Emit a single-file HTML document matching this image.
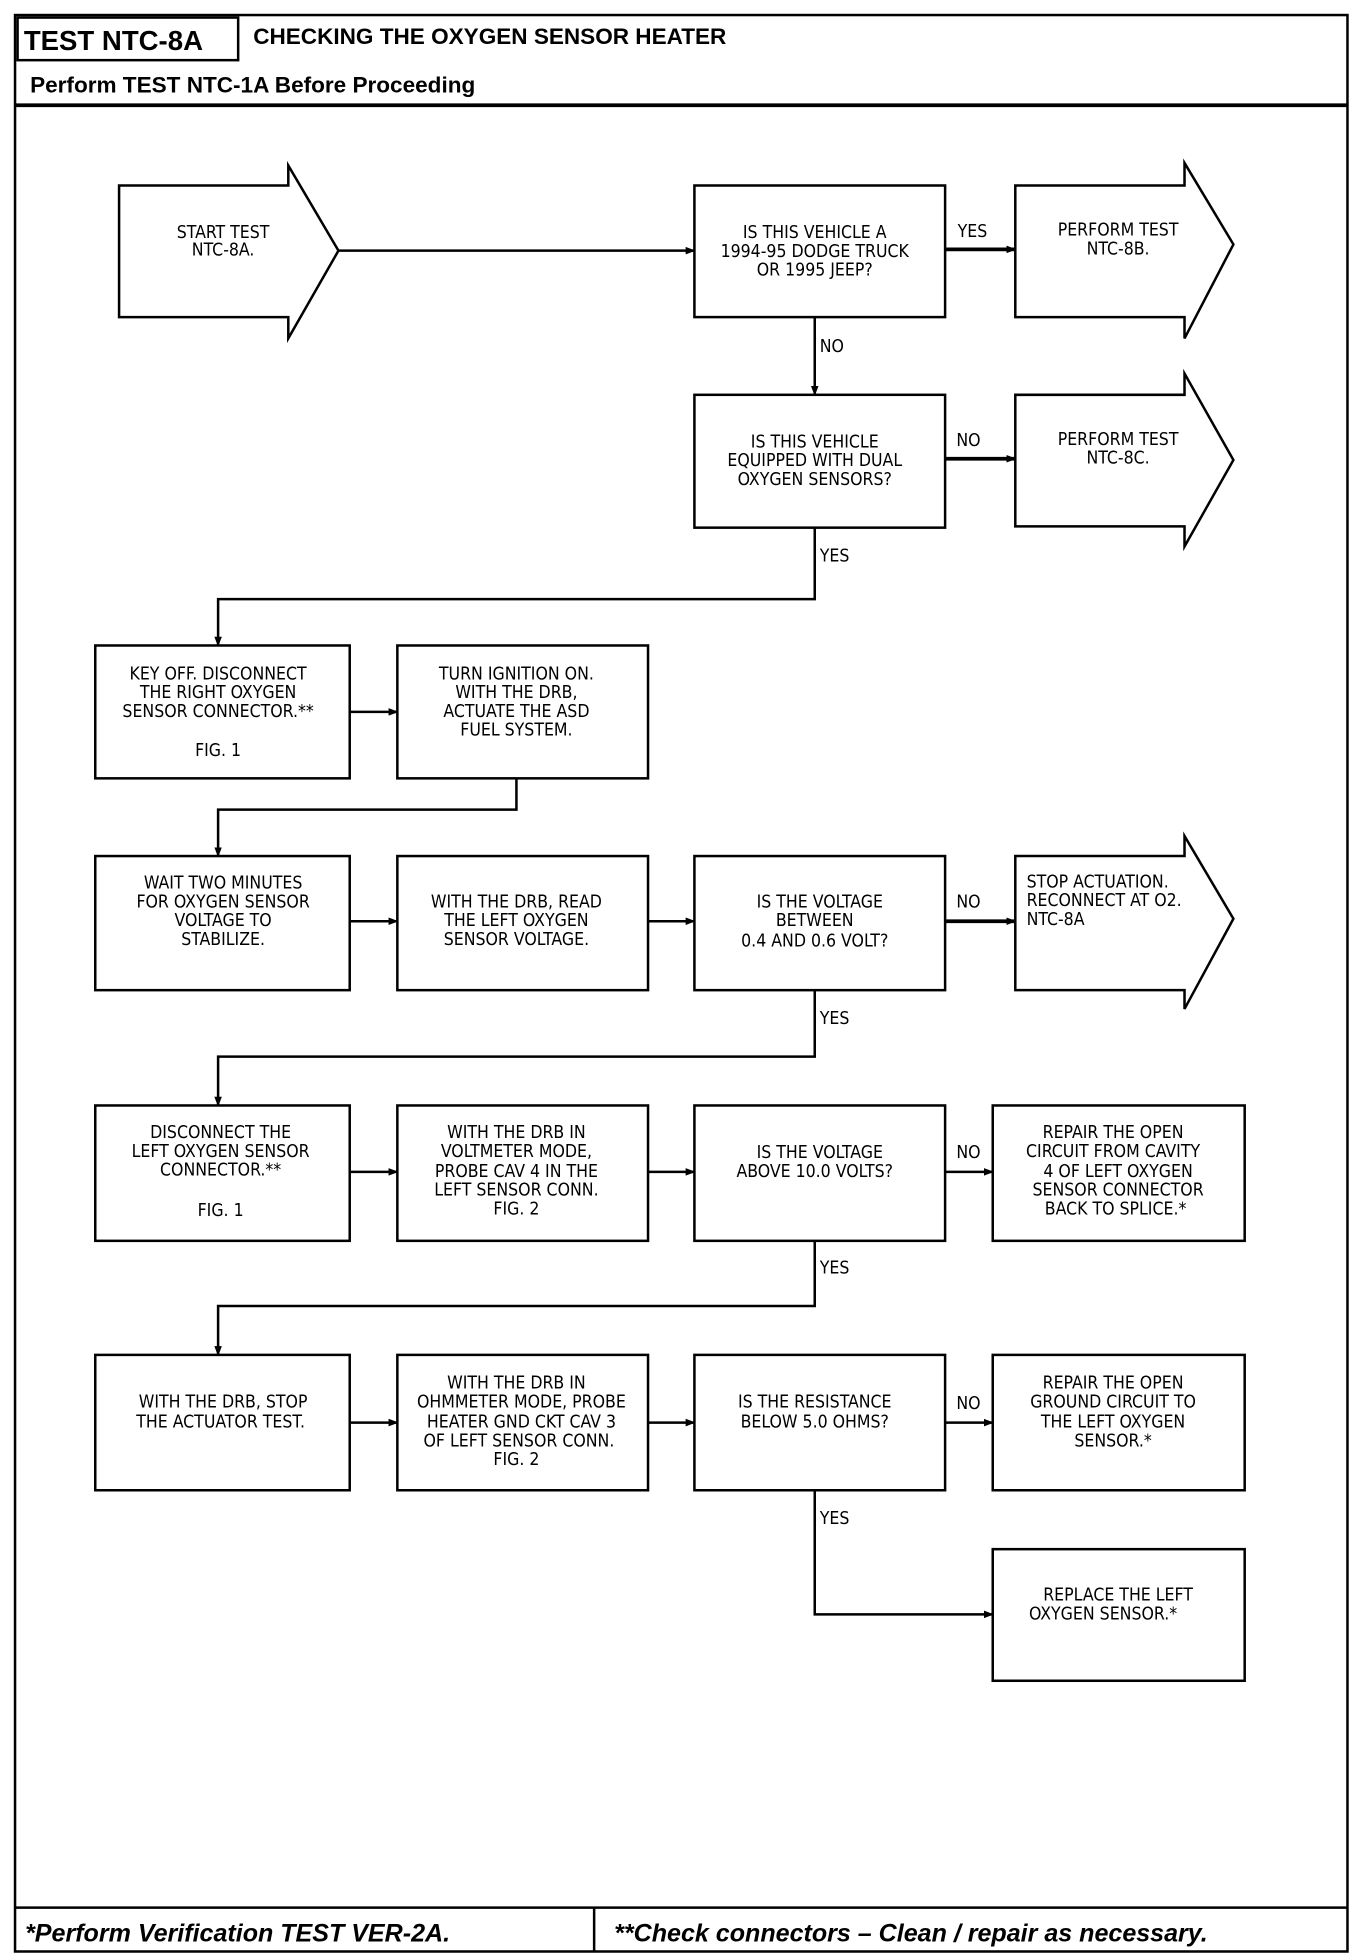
<!DOCTYPE html>
<html><head><meta charset="utf-8"><style>
html,body{margin:0;padding:0;background:#fff;}
svg{display:block;}
.t{font-family:"DejaVu Sans Condensed","Liberation Sans Narrow","Liberation Sans",sans-serif;font-size:14px;fill:#000;}
.h{font-family:"Liberation Sans",sans-serif;font-weight:bold;fill:#000;}
</style></head><body>
<svg width="1360" height="1954" viewBox="0 0 1085 1559" preserveAspectRatio="none" xmlns="http://www.w3.org/2000/svg">
<defs><marker id="a" markerWidth="8" markerHeight="8" refX="7" refY="4" orient="auto" markerUnits="userSpaceOnUse"><path d="M0,1 L8,4 L0,7 Z" fill="#000"/></marker></defs>
<g fill="none" stroke="#000" stroke-width="2">
<rect x="12" y="12" width="1063" height="1545"/>
<rect x="14" y="14" width="176" height="34"/>
<line x1="12" y1="84" x2="1075" y2="84" stroke-width="3"/>
<line x1="12" y1="1522" x2="1075" y2="1522"/>
<line x1="474" y1="1522" x2="474" y2="1557"/>
<!-- arrow shapes -->
<path d="M95,148 H230 V132 L270,200 L230,270 V253 H95 Z"/>
<path d="M810,148 H945 V130 L984,195 L945,270 V253 H810 Z"/>
<path d="M810,315 H945 V298 L984,367 L945,436 V420 H810 Z"/>
<path d="M810,683 H945 V667 L984,733 L945,805 V790 H810 Z"/>
<!-- boxes -->
<rect x="554" y="148" width="200" height="105"/>
<rect x="554" y="315" width="200" height="106"/>
<rect x="76" y="515" width="203" height="106"/>
<rect x="317" y="515" width="200" height="106"/>
<rect x="76" y="683" width="203" height="107"/>
<rect x="317" y="683" width="200" height="107"/>
<rect x="554" y="683" width="200" height="107"/>
<rect x="76" y="882" width="203" height="108"/>
<rect x="317" y="882" width="200" height="108"/>
<rect x="554" y="882" width="200" height="108"/>
<rect x="792" y="882" width="201" height="108"/>
<rect x="76" y="1081" width="203" height="108"/>
<rect x="317" y="1081" width="200" height="108"/>
<rect x="554" y="1081" width="200" height="108"/>
<rect x="792" y="1081" width="201" height="108"/>
<rect x="792" y="1236" width="201" height="105"/>
</g>
<g fill="none" stroke="#000" stroke-width="2" marker-end="url(#a)">
<line x1="270" y1="200" x2="554" y2="200"/>
<line x1="754" y1="199" x2="810" y2="199" stroke-width="3"/>
<line x1="650" y1="253" x2="650" y2="315"/>
<line x1="754" y1="366" x2="810" y2="366" stroke-width="3"/>
<polyline points="650,421 650,478 174,478 174,515"/>
<line x1="279" y1="568" x2="317" y2="568"/>
<polyline points="412,621 412,646 174,646 174,683"/>
<line x1="279" y1="735" x2="317" y2="735"/>
<line x1="517" y1="735" x2="554" y2="735"/>
<line x1="754" y1="735" x2="810" y2="735" stroke-width="3"/>
<polyline points="650,790 650,843 174,843 174,882"/>
<line x1="279" y1="935" x2="317" y2="935"/>
<line x1="517" y1="935" x2="554" y2="935"/>
<line x1="754" y1="935" x2="792" y2="935"/>
<polyline points="650,990 650,1042 174,1042 174,1081"/>
<line x1="279" y1="1135" x2="317" y2="1135"/>
<line x1="517" y1="1135" x2="554" y2="1135"/>
<line x1="754" y1="1135" x2="792" y2="1135"/>
<polyline points="650,1189 650,1288 792,1288"/>
</g>
<text class="h" x="19" y="40" font-size="22">TEST NTC-8A</text>
<text class="h" x="202" y="35" font-size="18">CHECKING THE OXYGEN SENSOR HEATER</text>
<text class="h" x="24" y="74" font-size="18">Perform TEST NTC-1A Before Proceeding</text>
<text class="h" x="20" y="1549" font-size="20" font-style="italic">*Perform Verification TEST VER-2A.</text>
<text class="h" x="490" y="1549" font-size="20" font-style="italic">**Check connectors – Clean / repair as necessary.</text>
<g class="t" text-anchor="middle">
<text x="178" y="190">START TEST</text><text x="178" y="204">NTC-8A.</text>
<text x="650" y="190">IS THIS VEHICLE A</text><text x="650" y="205">1994-95 DODGE TRUCK</text><text x="650" y="220">OR 1995 JEEP?</text>
<text x="892" y="188">PERFORM TEST</text><text x="892" y="203">NTC-8B.</text>
<text x="650" y="357">IS THIS VEHICLE</text><text x="650" y="372">EQUIPPED WITH DUAL</text><text x="650" y="387">OXYGEN SENSORS?</text>
<text x="892" y="355">PERFORM TEST</text><text x="892" y="370">NTC-8C.</text>
<text x="174" y="542">KEY OFF. DISCONNECT</text><text x="174" y="557">THE RIGHT OXYGEN</text><text x="174" y="572">SENSOR CONNECTOR.**</text><text x="174" y="603">FIG. 1</text>
<text x="412" y="542">TURN IGNITION ON.</text><text x="412" y="557">WITH THE DRB,</text><text x="412" y="572">ACTUATE THE ASD</text><text x="412" y="587">FUEL SYSTEM.</text>
<text x="178" y="709">WAIT TWO MINUTES</text><text x="178" y="724">FOR OXYGEN SENSOR</text><text x="178" y="739">VOLTAGE TO</text><text x="178" y="754">STABILIZE.</text>
<text x="412" y="724">WITH THE DRB, READ</text><text x="412" y="739">THE LEFT OXYGEN</text><text x="412" y="754">SENSOR VOLTAGE.</text>
<text x="654" y="724">IS THE VOLTAGE</text><text x="650" y="739">BETWEEN</text><text x="650" y="755">0.4 AND 0.6 VOLT?</text>
<text x="176" y="908">DISCONNECT THE</text><text x="176" y="923">LEFT OXYGEN SENSOR</text><text x="176" y="938">CONNECTOR.**</text><text x="176" y="970">FIG. 1</text>
<text x="412" y="908">WITH THE DRB IN</text><text x="412" y="923">VOLTMETER MODE,</text><text x="412" y="939">PROBE CAV 4 IN THE</text><text x="412" y="954">LEFT SENSOR CONN.</text><text x="412" y="969">FIG. 2</text>
<text x="654" y="924">IS THE VOLTAGE</text><text x="650" y="939">ABOVE 10.0 VOLTS?</text>
<text x="888" y="908">REPAIR THE OPEN</text><text x="888" y="923">CIRCUIT FROM CAVITY</text><text x="892" y="939">4 OF LEFT OXYGEN</text><text x="892" y="954">SENSOR CONNECTOR</text><text x="890" y="969">BACK TO SPLICE.*</text>
<text x="178" y="1123">WITH THE DRB, STOP</text><text x="176" y="1139">THE ACTUATOR TEST.</text>
<text x="412" y="1108">WITH THE DRB IN</text><text x="416" y="1123">OHMMETER MODE, PROBE</text><text x="416" y="1139">HEATER GND CKT CAV 3</text><text x="414" y="1154">OF LEFT SENSOR CONN.</text><text x="412" y="1169">FIG. 2</text>
<text x="650" y="1123">IS THE RESISTANCE</text><text x="650" y="1139">BELOW 5.0 OHMS?</text>
<text x="888" y="1108">REPAIR THE OPEN</text><text x="888" y="1123">GROUND CIRCUIT TO</text><text x="888" y="1139">THE LEFT OXYGEN</text><text x="888" y="1154">SENSOR.*</text>
<text x="892" y="1277">REPLACE THE LEFT</text><text x="880" y="1292">OXYGEN SENSOR.*</text>
</g>
<g class="t">
<text x="819" y="708">STOP ACTUATION.</text><text x="819" y="723">RECONNECT AT O2.</text><text x="819" y="738">NTC-8A</text>
<text x="764" y="189">YES</text>
<text x="654" y="281">NO</text>
<text x="763" y="356">NO</text>
<text x="654" y="448">YES</text>
<text x="763" y="724">NO</text>
<text x="654" y="817">YES</text>
<text x="763" y="924">NO</text>
<text x="654" y="1016">YES</text>
<text x="763" y="1124">NO</text>
<text x="654" y="1216">YES</text>
</g>
</svg>
</body></html>
